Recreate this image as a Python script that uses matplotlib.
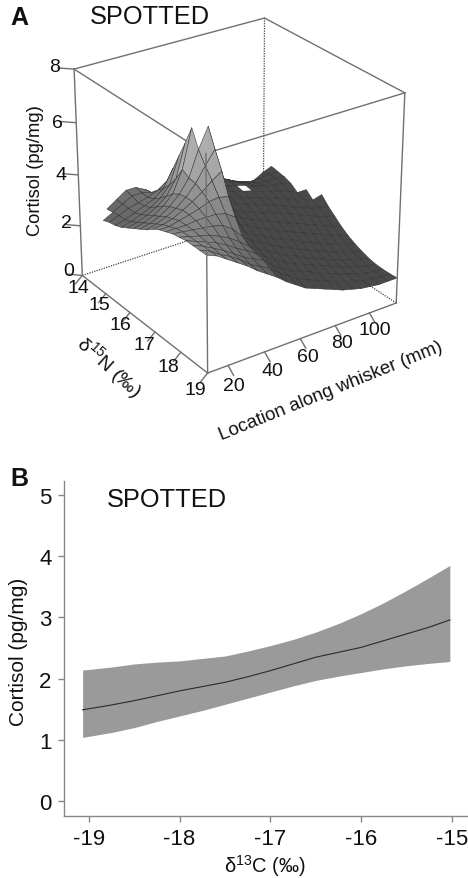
import numpy as np
import matplotlib
matplotlib.use("Agg")
import matplotlib.pyplot as plt
from mpl_toolkits.mplot3d.art3d import Poly3DCollection

plt.rcParams['font.family'] = ['Liberation Sans', 'DejaVu Sans']
nan = float('nan')

# Panel A data
nitrogen = [14 + 0.25 * k for k in range(21)]
location = [9, 14.35, 19.7, 25.05, 30.4, 35.75, 41.1, 46.45, 51.8, 57.15, 62.5,
            67.85, 73.2, 78.55, 83.9, 89.25, 94.6, 99.95, 105.3, 110.65, 116]
cortisol_grid = [
 [nan]*21,
 [nan]*21,
 [nan]*21,
 [nan,3.05,3.3,3.55,3.55,3.35,3.05]+[nan]*14,
 [2.9,3.1,3.3,3.5,3.5,3.4,3.3,nan,3.5,3.45,3.4,3.3,3.15,3.0,2.8,2.6,2.6,2.8,2.95,nan,nan],
 [3.0,3.15,3.3,3.4,3.5,3.65,3.9,nan,3.6,3.55,3.5,3.4,3.3,3.1,2.95,2.85,2.85,2.9,2.9,nan,nan],
 [3.05,3.15,3.3,3.45,3.6,3.9,4.55,nan,3.65,3.6,3.55,3.45,3.35,3.2,3.05,2.95,2.9,2.9,2.85,nan,nan],
 [3.15,3.25,3.4,3.55,3.8,4.2,5.2,nan,3.7,3.6,3.55,3.45,3.35,3.25,3.1,3.0,2.9,2.85,2.75,nan,nan],
 [3.3,3.4,3.55,3.75,4.05,4.6,5.85,nan,3.75,3.6,3.5,3.4,3.3,3.2,3.05,2.95,2.85,2.7,2.55,2.55,nan],
 [3.45,3.55,3.7,3.95,4.3,5.1,6.55,nan,3.75,3.55,3.45,3.35,3.2,3.1,2.95,2.85,2.7,2.55,2.45,2.3,2.4],
 [3.6,3.7,3.85,4.1,4.45,4.95,5.9,6.65,3.7,3.5,3.35,3.25,3.1,3.0,2.85,2.7,2.55,2.4,2.25,2.15,2.1],
 [3.75,3.85,4.0,4.2,4.5,4.9,5.45,5.95,3.6,3.4,3.25,3.1,2.95,2.85,2.7,2.55,2.4,2.25,2.1,1.98,1.86],
 [3.95,4.0,4.1,4.3,4.5,4.75,5.05,5.3,3.5,3.3,3.1,2.95,2.8,2.65,2.5,2.35,2.2,2.05,1.9,1.75,1.62],
 [4.1,4.1,4.2,4.3,4.4,4.55,4.6,4.5,3.35,3.15,2.95,2.8,2.6,2.45,2.3,2.15,2.0,1.85,1.7,1.55,1.43],
 [4.2,4.2,4.2,4.25,4.25,4.25,4.15,3.9,3.2,3.0,2.8,2.6,2.45,2.3,2.1,1.95,1.8,1.65,1.5,1.38,1.28],
 [4.3,4.25,4.2,4.15,4.1,4.0,3.75,3.35,3.05,2.85,2.65,2.45,2.3,2.1,1.95,1.8,1.65,1.5,1.35,1.25,1.16],
 [4.35,4.25,4.15,4.05,3.9,3.7,3.45,3.15,2.9,2.7,2.5,2.3,2.15,1.95,1.8,1.65,1.5,1.35,1.25,1.15,1.06],
 [4.4,4.25,4.1,3.95,3.75,3.5,3.3,3.05,2.8,2.55,2.35,2.15,2.0,1.85,1.7,1.55,1.4,1.27,1.15,1.05,1.0],
 [4.4,4.25,4.05,3.85,3.6,3.35,3.15,3.0,2.65,2.4,2.2,2.05,1.9,1.7,1.58,1.42,1.3,1.18,1.08,1.0,0.98],
 [4.4,4.25,4.0,3.8,3.55,3.25,3.05,2.85,2.55,2.3,2.05,1.9,1.75,1.6,1.45,1.32,1.2,1.1,1.03,1.0,0.98],
 [4.4,4.25,4.0,3.75,3.5,3.2,2.95,2.7,2.4,2.15,1.9,1.75,1.6,1.45,1.3,1.2,1.1,1.05,1.0,1.0,1.0],
]
gap_cells = [(7, 12)]
n_ticks = [14, 15, 16, 17, 18, 19]
loc_ticks = [20, 40, 60, 80, 100]
z_ticks = [0, 2, 4, 6, 8]

# Panel B data
d13c = [-19.07,-18.75,-18.5,-18.25,-18,-17.75,-17.5,-17.25,-17,-16.75,-16.5,-16.25,-16,-15.75,-15.5,-15.25,-15.02]
mean_cort = [1.49,1.57,1.64,1.72,1.80,1.87,1.94,2.03,2.13,2.24,2.35,2.43,2.51,2.62,2.73,2.84,2.96]
upper_cort = [2.14,2.19,2.24,2.27,2.29,2.33,2.37,2.45,2.54,2.64,2.76,2.90,3.06,3.24,3.44,3.65,3.85]
lower_cort = [1.04,1.12,1.20,1.30,1.39,1.48,1.58,1.68,1.78,1.88,1.97,2.04,2.10,2.16,2.21,2.25,2.28]
b_xticks = [-19, -18, -17, -16, -15]
b_yticks = [0, 1, 2, 3, 4, 5]

W, H = 468, 879
fig = plt.figure(figsize=(W/100, H/100), dpi=100, facecolor='white')

def T(px, py, s, size, rot=0, ha='center', va='center', **kw):
    fig.text(px/W, 1-py/H, s, fontsize=size, rotation=rot, ha=ha, va=va,
             rotation_mode='anchor', color=kw.pop('color', '#111111'), **kw)

# ---------- Panel A ----------
size3d = 470
cx, cy = 231, 195
ax = fig.add_axes([(cx-size3d/2)/W, 1-(cy+size3d/2)/H, size3d/W, size3d/H], projection='3d')
ax.set_proj_type('persp', focal_length=0.8)
ax.view_init(elev=27, azim=-35)
ax.set_box_aspect((1, 1, 1.01), zoom=0.83)
nmin, nmax, lmin, lmax = nitrogen[0], nitrogen[-1], location[0], location[-1]
ax.set_xlim(nmin, nmax, view_margin=0)
ax.set_ylim(lmin, lmax, view_margin=0)
ax.set_zlim(0, 8, view_margin=0)
ax.set_axis_off()
ax.patch.set_alpha(0)
ax.computed_zorder = False

Z = np.array(cortisol_grid)
polys, faces = [], []
for i in range(Z.shape[0]-1):
    for j in range(Z.shape[1]-1):
        c = [Z[i, j], Z[i, j+1], Z[i+1, j+1], Z[i+1, j]]
        if not np.all(np.isfinite(c)) or (i, j) in gap_cells:
            continue
        polys.append([(nitrogen[i], location[j], c[0]), (nitrogen[i], location[j+1], c[1]),
                      (nitrogen[i+1], location[j+1], c[2]), (nitrogen[i+1], location[j], c[3])])
        zm = np.mean(c)
        v = np.clip(0.28 + 0.11*(zm-2.0), 0.30, 0.68) if j < 7 else 0.285
        faces.append((v, v, v))
surf = Poly3DCollection(polys, facecolors=faces, edgecolors='#303030', linewidths=0.35, zorder=2)
ax.add_collection3d(surf)

lc = '#707070'
def L(a, b, **kw):
    opts = dict(color=lc, lw=1.0, zorder=1)
    opts.update(kw)
    ax.plot([a[0], b[0]], [a[1], b[1]], [a[2], b[2]], **opts)

# back (dotted) edges
dot = dict(ls=(0, (1, 1)), color='#444444', lw=0.9)
L((nmin, lmax, 8), (nmin, lmax, 0), **dot)
L((nmin, lmin, 0), (nmin, lmax, 0), **dot)
L((nmax, lmax, 0), (nmin, lmax, 0), **dot)
# top edges and verticals
L((nmin, lmin, 8), (nmin, lmax, 8))
L((nmin, lmax, 8), (nmax, lmax, 8))
L((nmax, lmax, 8), (nmax, lmin, 8))
L((nmax, lmin, 8), (nmin, lmin, 8))
L((nmin, lmin, 0), (nmin, lmin, 8))
L((nmax, lmax, 0), (nmax, lmax, 8), zorder=3)
# front edges
L((nmax, lmin, 0), (nmax, lmin, 8), zorder=3)
L((nmin, lmin, 0), (nmax, lmin, 0), zorder=3)
L((nmax, lmin, 0), (nmax, lmax, 0), zorder=3)
# ticks
for z in z_ticks:
    L((nmin, lmin, z), (nmin-0.25, lmin-0.25*107/5, z), zorder=3)
for n in n_ticks:
    L((n, lmin, 0), (n, lmin-4, -0.25), zorder=3)
for l in loc_ticks:
    L((nmax, l, 0), (nmax+0.2, l, -0.22), zorder=3)

T(10, 18, 'A', 18, weight='bold', ha='left')
T(90, 17, 'SPOTTED', 18.3, ha='left')
for lab, (x, y) in zip(z_ticks, [(74, 272), (72, 224), (67, 175), (63, 123), (60, 68)]):
    T(x, y, str(lab), 14, ha='right')
for lab, (x, y) in zip(n_ticks, [(78, 289), (99, 306), (120, 326), (144, 345), (168, 368), (195, 391)]):
    T(x, y, str(lab), 14)
for lab, (x, y) in zip(loc_ticks, [(234, 387), (272, 372), (308, 358), (342, 344), (375, 331)]):
    T(x, y, str(lab), 14)
T(35, 171, 'Cortisol (pg/mg)', 13.2, rot=90)
T(109, 367, r'$\mathregular{\delta^{15}N}$ (‰)', 14, rot=-42)
T(331, 391, 'Location along whisker (mm)', 13.5, rot=22)

# ---------- Panel B ----------
L0, R0, B0, T0 = 64, 468, 817, 482
axb = fig.add_axes([L0/W, 1-B0/H, (R0-L0)/W, (B0-T0)/H])
axb.set_xlim(-19.275, -14.82)
axb.set_ylim(-0.245, 5.23)
axb.fill_between(d13c, lower_cort, upper_cort, color='#9a9a9a', lw=0)
axb.plot(d13c, mean_cort, color='#2a2a2a', lw=0.8)
axb.spines['top'].set_visible(False)
axb.spines['right'].set_visible(False)
for s in ('left', 'bottom'):
    axb.spines[s].set_color('#888888')
    axb.spines[s].set_linewidth(1.0)
axb.set_xticks(b_xticks)
axb.set_yticks(b_yticks)
axb.tick_params(axis='both', color='#888888', length=4, width=1.0, labelsize=16, labelcolor='#111111', pad=5)
axb.set_xticklabels([str(v) for v in b_xticks], clip_on=False)
T(10, 479, 'B', 18, weight='bold', ha='left')
T(107, 500, 'SPOTTED', 18.3, ha='left')
T(19, 652, 'Cortisol (pg/mg)', 15, rot=90)
T(265, 866, r'$\mathregular{\delta^{13}C}$ (‰)', 14.5)

fig.savefig('out.png', dpi=100)
